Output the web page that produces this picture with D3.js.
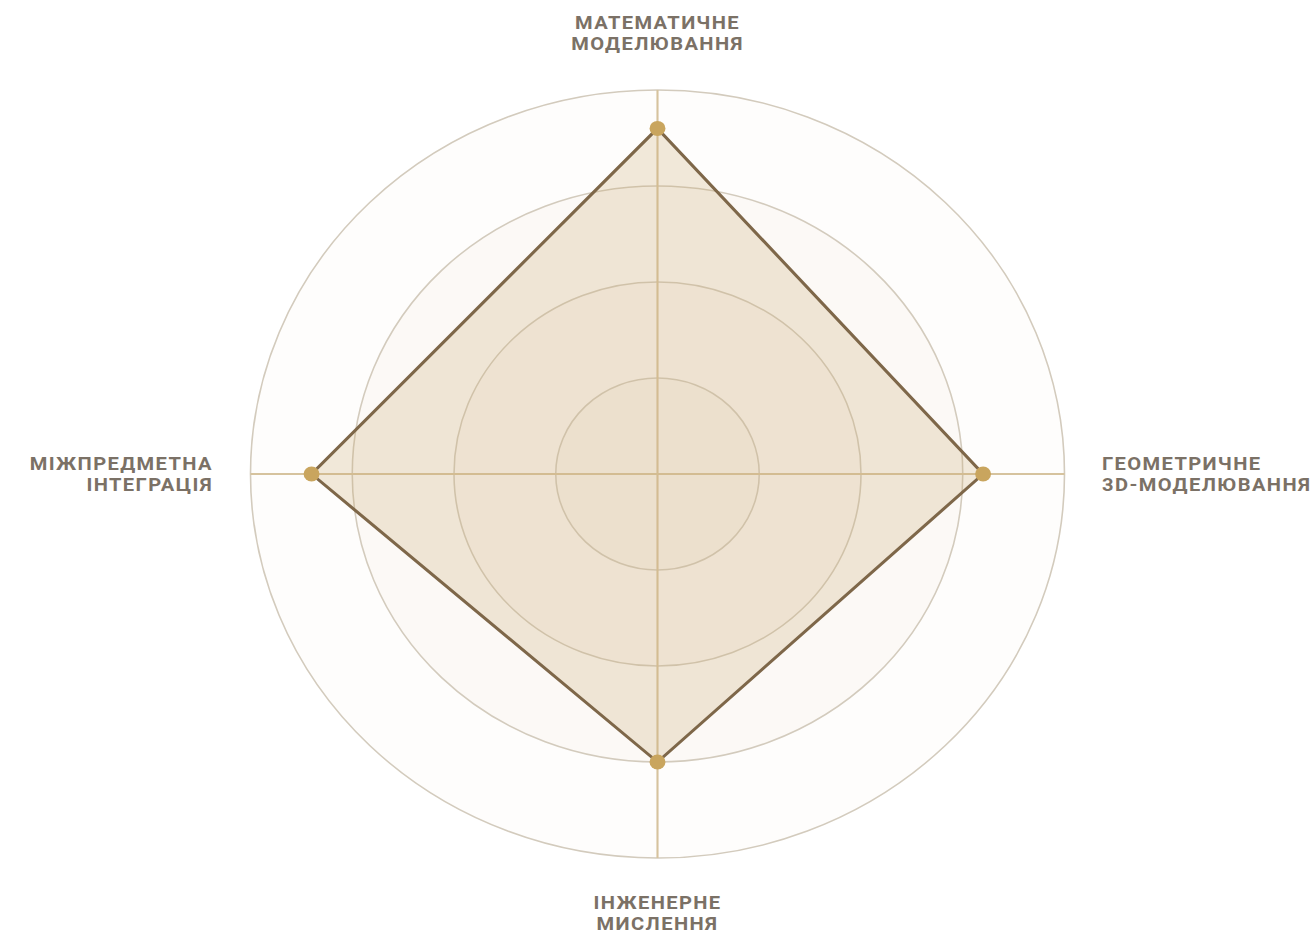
<!DOCTYPE html>
<html lang="uk">
<head>
<meta charset="utf-8" />
<title>Radar</title>
<script src="https://cdnjs.cloudflare.com/ajax/libs/d3/7.8.5/d3.min.js"></script>
<style>
    body { margin: 0; background: #fff; overflow: hidden; }
    .axis-label {
        font-family: Roboto, "Noto Sans", sans-serif;
        font-weight: 700;
        font-size: 19px;
        letter-spacing: 1.3px;
        fill: #7b7166;
    }
</style>
</head>
<body>
<div id="chart"></div>
<script>
    // categories clockwise from the top
    const categories = [
        ["МАТЕМАТИЧНЕ", "МОДЕЛЮВАННЯ"],
        ["ГЕОМЕТРИЧНЕ", "3D-МОДЕЛЮВАННЯ"],
        ["ІНЖЕНЕРНЕ", "МИСЛЕННЯ"],
        ["МІЖПРЕДМЕТНА", "ІНТЕГРАЦІЯ"]
    ];
    const values = [90, 80, 75, 85];
    const levels = [25, 50, 75, 100];

    const width = 1312, height = 936;
    const cx = 657.5, cy = 474;
    const radius = 384;
    const stretchX = 407 / 384; // picture is a bit wider than tall

    const svg = d3.select("#chart").append("svg")
        .attr("width", width)
        .attr("height", height);

    const g = svg.append("g")
        .attr("transform", `translate(${cx},${cy}) scale(${stretchX},1)`);

    const r = d3.scaleLinear().domain([0, 100]).range([0, radius]);
    const angle = d3.scaleLinear().domain([0, categories.length]).range([0, 2 * Math.PI]);

    // rings, filled with a faint beige that builds up towards the centre
    g.selectAll("circle.ring")
        .data(levels.slice().reverse())
        .join("circle")
        .attr("class", "ring")
        .attr("r", d => r(d))
        .attr("fill", "#e9dcc4")
        .attr("fill-opacity", d => d === 100 ? 0.06 : 0.11)
        .attr("stroke", "#d3cbbd")
        .attr("stroke-width", 1.5);

    // spokes
    g.selectAll("line.spoke")
        .data(categories)
        .join("line")
        .attr("class", "spoke")
        .attr("x1", 0).attr("y1", 0)
        .attr("x2", (d, i) => r(100) * Math.sin(angle(i)))
        .attr("y2", (d, i) => -r(100) * Math.cos(angle(i)))
        .attr("stroke", "#d6c39e")
        .attr("stroke-width", 2);

    const line = d3.lineRadial()
        .angle((d, i) => angle(i))
        .radius(d => r(d))
        .curve(d3.curveLinearClosed);

    g.append("path")
        .datum(values)
        .attr("d", line)
        .attr("fill", "#c9a66e")
        .attr("fill-opacity", 0.24)
        .attr("stroke", "#7e6749")
        .attr("stroke-width", 3)
        .attr("stroke-linejoin", "round");

    g.selectAll("circle.dot")
        .data(values)
        .join("circle")
        .attr("class", "dot")
        .attr("cx", (d, i) => r(d) * Math.sin(angle(i)))
        .attr("cy", (d, i) => -r(d) * Math.cos(angle(i)))
        .attr("r", 7.5)
        .attr("fill", "#c9a55e");

    // labels (offsets in screen pixels from the centre)
    const labelPos = [
        { x: 0, y: -451.5, anchor: "middle" },
        { x: 444.5, y: -10.5, anchor: "start" },
        { x: 0, y: 428.5, anchor: "middle" },
        { x: -444.5, y: -10.5, anchor: "end" }
    ];

    const labels = g.selectAll("text.axis-label")
        .data(categories)
        .join("text")
        .attr("class", "axis-label")
        .attr("text-anchor", (d, i) => labelPos[i].anchor)
        .attr("transform", (d, i) => `translate(${labelPos[i].x / stretchX},${labelPos[i].y})`);

    labels.each(function(d) {
        const t = d3.select(this);
        d.forEach((s, k) => {
            t.append("tspan")
                .attr("x", 0)
                .attr("dy", k === 0 ? "0.35em" : 21)
                .text(s);
        });
    });
</script>
</body>
</html>
